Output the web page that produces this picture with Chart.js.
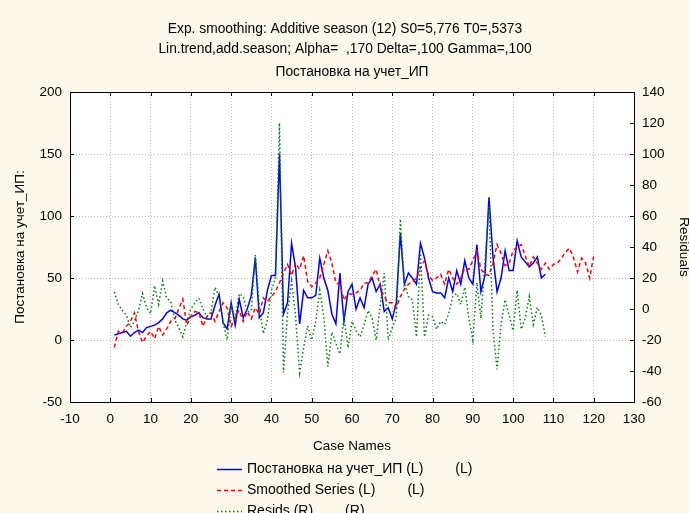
<!DOCTYPE html>
<html><head><meta charset="utf-8">
<script src="https://cdn.jsdelivr.net/npm/chart.js@4.4.1/dist/chart.umd.min.js"></script>
<style>html,body{margin:0;padding:0;background:#fdf8ec;}canvas{display:block;}</style>
</head><body>
<canvas id="c" width="689" height="513"></canvas>
<script>
// ---- text ----
const titleLines = [
  'Exp. smoothing: Additive season (12) S0=5,776 T0=,5373',
  'Lin.trend,add.season; Alpha=  ,170 Delta=,100 Gamma=,100',
  'Постановка на учет_ИП'
];
const xTitle = 'Case Names';
const yLeftTitle = 'Постановка на учет_ИП:';
const yRightTitle = 'Residuals';
const seriesNames = ['Постановка на учет_ИП (L)', 'Smoothed Series (L)', 'Resids (R)'];
const seriesTags = ['(L)', '(L)', '(R)'];

// ---- data (case number = position in list, starting at 1) ----
const observed = [4,5,6,7,3,6,8,6,10,11, 12,14,17,22,24,22,20,17,16,19, 20,22,18,17,17,28,37,14,9,30,
  12,33,18,25,36,66,18,22,40,52, 52,150,21,30,78,58,13,40,34,34, 36,66,50,40,21,13,54,15,39,45,
  25,34,26,45,50,39,45,23,26,17, 30,86,45,54,50,45,78,66,50,39, 38,38,34,50,39,56,45,64,50,45,
  77,39,52,115,67,39,50,72,56,56, 80,67,63,59,62,67,50,53];
const smoothed = [-6,7,6,11,15,22,7,-2,3,7, 1,11,4,9,15,17,25,33,12,19, 23,22,11,19,22,15,23,30,26,11,
  18,24,15,23,17,26,21,34,31,35, 39,46,54,61,52,62,57,68,47,43, 46,50,61,72,62,46,45,32,37,37,
  38,40,46,46,52,57,42,35,30,30, 26,35,41,45,47,50,58,64,52,48, 50,53,45,57,50,45,50,58,57,64,
  72,57,53,52,62,77,70,60,62,72, 75,77,68,59,67,62,57,62,57,61, 62,66,71,74,66,55,66,62,50,68];
const resids = [11,3,-1,-4,-12,-8,-1,10,1,-3, 15,3,18,7,5,-7,-12,-18,-8,0, 4,7,0,-5,-2,14,8,-9,-20,2,
  -6,10,8,-2,-1,35,1,-16,-7,12, 20,120,-41,-3,18,-5,-41,-25,-11,-20, -8,12,-5,-37,-15,-22,-29,-5,-25,-8,
  -14,-18,-10,-1,-6,-20,2,23,-20,-12, -6,58,17,8,6,-18,36,-18,-4,-5, -13,-8,-10,-3,8,10,3,14,-6,-20,
  17,-6,30,66,-13,-39,-10,6,-4,-14, 12,-13,-6,8,-10,1,-4,-18];

// ---- axis ranges ----
const xAxis = {min:-10, max:130, step:10};
const yLeftAxis = {min:-50, max:200, step:50};
const yRightAxis = {min:-60, max:140, step:20};

const FAM = '"Liberation Sans", Arial, sans-serif';
const toPts = arr => arr.map((v,i)=>({x:i+1, y:v}));

const deco = {
  id:'deco',
  beforeDraw(chart){
    const {ctx, chartArea:a} = chart;
    ctx.save();
    ctx.fillStyle='#fdf8ec'; ctx.fillRect(0,0,chart.width,chart.height);
    ctx.fillStyle='#ffffff'; ctx.fillRect(a.left,a.top,a.right-a.left,a.bottom-a.top);
    ctx.restore();
  },
  afterDraw(chart){
    const {ctx, chartArea:a, scales} = chart;
    ctx.save();
    // frame
    ctx.strokeStyle='#000'; ctx.lineWidth=1; ctx.setLineDash([]);
    ctx.strokeRect(Math.round(a.left)+0.5, Math.round(a.top)+0.5, Math.round(a.right-a.left), Math.round(a.bottom-a.top));
    // inner tick marks
    const L=4;
    ctx.beginPath();
    scales.x.ticks.forEach(t=>{const p=Math.round(scales.x.getPixelForValue(t.value))+0.5;
      ctx.moveTo(p,a.bottom); ctx.lineTo(p,a.bottom-L); ctx.moveTo(p,a.top); ctx.lineTo(p,a.top+L);});
    scales.y.ticks.forEach(t=>{const p=Math.round(scales.y.getPixelForValue(t.value))+0.5;
      ctx.moveTo(a.left,p); ctx.lineTo(a.left+L,p);});
    scales.y2.ticks.forEach(t=>{const p=Math.round(scales.y2.getPixelForValue(t.value))+0.5;
      ctx.moveTo(a.right,p); ctx.lineTo(a.right-L,p);});
    ctx.stroke();
    // titles
    ctx.fillStyle='#000'; ctx.textAlign='center'; ctx.textBaseline='middle';
    ctx.font='13.8px '+FAM;
    const ty=[29,49,72], tx=[345,345,352];
    titleLines.forEach((t,i)=>ctx.fillText(t,tx[i],ty[i]));
    // legend
    const rows=[469,490,511];
    ctx.font='14px '+FAM; ctx.textAlign='left';
    chart.data.datasets.forEach((ds,i)=>{
      const y=rows[i];
      ctx.save();
      ctx.strokeStyle=ds.borderColor; ctx.lineWidth=ds.borderWidth; ctx.setLineDash(ds.borderDash||[]);
      ctx.beginPath(); ctx.moveTo(217,y+0.5); ctx.lineTo(242,y+0.5); ctx.stroke();
      ctx.restore();
      ctx.fillText(seriesNames[i],247,y);
      const w=ctx.measureText(seriesNames[i]).width;
      ctx.fillText(seriesTags[i],247+w+32,y);
    });
    ctx.restore();
  }
};

const tickFont = {size:13.5, family:FAM};
const titleFont = {size:13.5, family:FAM};

new Chart(document.getElementById('c'), {
  type:'line',
  data:{datasets:[
    {label:seriesNames[0], data:toPts(observed), yAxisID:'y', borderColor:'#0000ff', borderWidth:1.5, order:2},
    {label:seriesNames[1], data:toPts(smoothed), yAxisID:'y', borderColor:'#ff0000', borderWidth:1.5, borderDash:[4,3], order:1},
    {label:seriesNames[2], data:toPts(resids), yAxisID:'y2', borderColor:'#008000', borderWidth:1.5, borderDash:[1.5,2.5], order:0}
  ]},
  options:{
    responsive:false, animation:false, devicePixelRatio:1,
    elements:{point:{radius:0,hoverRadius:0}, line:{tension:0, fill:false}},
    layout:{padding:{top:92,left:0,right:0,bottom:0}},
    plugins:{legend:{display:false}, tooltip:{enabled:false}, title:{display:false}},
    scales:{
      x:{type:'linear', position:'bottom', min:xAxis.min, max:xAxis.max,
        ticks:{stepSize:xAxis.step, color:'#000', font:tickFont, padding:9, maxRotation:0, autoSkip:false},
        grid:{color:'#b8b8b8', drawTicks:false, lineWidth:1},
        border:{display:false, dash:[1,2]},
        title:{display:true, text:xTitle, color:'#000', font:titleFont, padding:{top:0,bottom:59}},
        afterFit(s){ s.height=111; }
      },
      y:{type:'linear', position:'left', min:yLeftAxis.min, max:yLeftAxis.max,
        ticks:{stepSize:yLeftAxis.step, color:'#000', font:tickFont, padding:8},
        grid:{color:'#b8b8b8', drawTicks:false, lineWidth:1},
        border:{display:false, dash:[1,2]},
        title:{display:true, text:yLeftTitle, color:'#000', font:titleFont, padding:{top:12,bottom:0}},
        afterFit(s){ s.width=70; }
      },
      y2:{type:'linear', position:'right', min:yRightAxis.min, max:yRightAxis.max,
        ticks:{stepSize:yRightAxis.step, color:'#000', font:tickFont, padding:8},
        grid:{display:false, drawTicks:false},
        border:{display:false},
        title:{display:true, text:yRightTitle, color:'#000', font:titleFont, padding:{top:-3,bottom:0}},
        afterFit(s){ s.width=55; }
      }
    }
  },
  plugins:[deco]
});
</script>
</body></html>
